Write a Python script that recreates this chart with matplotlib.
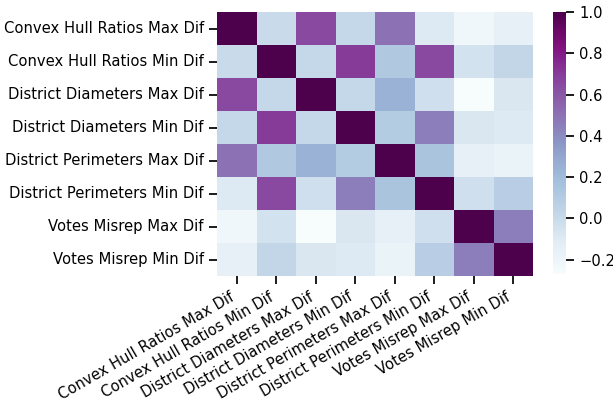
import matplotlib
matplotlib.use("Agg")
import matplotlib.pyplot as plt
import numpy as np
import pandas as pd
import seaborn as sns

labels = [
    "Convex Hull Ratios Max Dif",
    "Convex Hull Ratios Min Dif",
    "District Diameters Max Dif",
    "District Diameters Min Dif",
    "District Perimeters Max Dif",
    "District Perimeters Min Dif",
    "Votes Misrep Max Dif",
    "Votes Misrep Min Dif",
]

chr_max = [1.00, 0.00, 0.65, 0.02, 0.50, -0.10, -0.22, -0.15]
chr_min = [0.00, 1.00, 0.02, 0.70, 0.12, 0.65, -0.05, 0.03]
dd_max = [0.65, 0.02, 1.00, 0.02, 0.25, -0.03, -0.27, -0.08]
dd_min = [0.02, 0.70, 0.02, 1.00, 0.10, 0.45, -0.08, -0.10]
dp_max = [0.50, 0.12, 0.25, 0.10, 1.00, 0.15, -0.15, -0.18]
dp_min = [-0.10, 0.65, -0.03, 0.45, 0.15, 1.00, -0.03, 0.08]
vm_max = [-0.22, -0.05, -0.27, -0.08, -0.15, -0.03, 1.00, 0.45]
vm_min = [-0.15, 0.03, -0.08, -0.10, -0.18, 0.08, 0.45, 1.00]

corr = pd.DataFrame([chr_max, chr_min, dd_max, dd_min, dp_max, dp_min, vm_max, vm_min],
                    index=labels, columns=labels)

sns.set_context("notebook")
plt.rcParams["font.family"] = ["DejaVu Sans"]
fs = 10.6

fig = plt.figure(figsize=(6.13, 4.01), dpi=100)
ax = fig.add_axes([217 / 613, 1 - 276 / 401, 316 / 613, 264 / 401])
cax = fig.add_axes([553 / 613, 1 - 274 / 401, 13 / 613, 262 / 401])

sns.heatmap(corr, cmap="BuPu", ax=ax, cbar_ax=cax)
ax.set_xticklabels(labels, rotation=30, ha="right", fontsize=fs)
ax.set_yticklabels(labels, rotation=0, fontsize=fs)
cax.tick_params(labelsize=fs)

fig.savefig("out.png", dpi=100)
